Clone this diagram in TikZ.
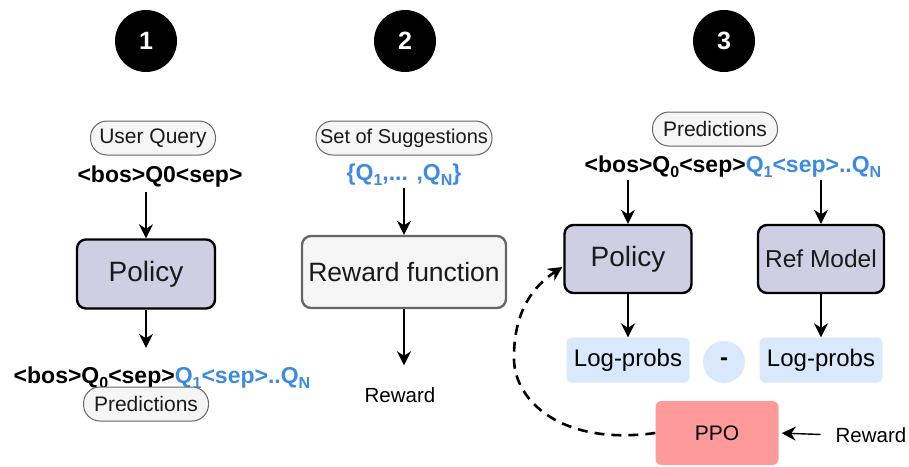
\documentclass[tikz,border=0pt]{standalone}
\usepackage{fontspec}
\setmainfont{Liberation Sans}
\usetikzlibrary{arrows.meta,calc}
\definecolor{qblue}{HTML}{3D8AE2}
\definecolor{lav}{HTML}{D0CEE2}
\definecolor{lblue}{HTML}{DAE8FC}
\definecolor{pillfill}{HTML}{F5F5F5}
\definecolor{pilldraw}{HTML}{666666}
\definecolor{ppored}{HTML}{FF9A9A}
\definecolor{txt}{HTML}{1A1A1A}
\newcommand\qsub[1]{\raisebox{-0.22em}{\fontsize{16}{16}\selectfont #1}}
\begin{document}
\begin{tikzpicture}[x=1pt,y=-1pt,
  numcirc/.style={circle,fill=black,minimum size=62pt,inner sep=0pt,text=white,font=\fontsize{25}{30}\selectfont\bfseries},
  pill/.style={draw=pilldraw,fill=pillfill,line width=1pt,rounded corners=16.5pt,minimum height=34pt,inner sep=0pt,text=txt,font=\fontsize{21}{24}\selectfont},
  model/.style={draw=black,line width=2.4pt,fill=lav,rounded corners=9pt,inner sep=0pt,text=txt},
  rbox/.style={draw=pilldraw,line width=2.4pt,fill=pillfill,rounded corners=9pt,inner sep=0pt,text=txt,font=\fontsize{26.5}{30}\selectfont},
  logp/.style={fill=lblue,rounded corners=5pt,minimum width=123pt,minimum height=45pt,inner sep=0pt,font=\fontsize{24}{28}\selectfont},
  tok/.style={inner sep=0pt,font=\fontsize{23}{26}\selectfont\bfseries},
  plain/.style={inner sep=0pt,font=\fontsize{20.5}{24}\selectfont},
  arr/.style={-{Stealth[length=14pt,width=14pt,inset=4.5pt]},line width=1.4pt}]
\useasboundingbox (0,0) rectangle (909,466);

% step numbers
\node[numcirc] (n1) at (146,41) {1};
\node[numcirc] (n2) at (405,41) {2};
\node[numcirc] (n3) at (724,41) {3};

% ---- column 1
\node[pill,minimum width=125pt] (uq) at (153,138) {User Query};
\node[tok] (q0) at (160,177) {<bos>Q0<sep>};
\node[model,minimum width=138pt,minimum height=69pt,font=\fontsize{28}{30}\selectfont] (pol1) at (146,274) {Policy};
\node[tok] (pred1) at (162,378) {<bos>Q\qsub{0}<sep>\textcolor{qblue}{Q\qsub{1}<sep>..Q\qsub{N}}};
\node[pill,minimum width=125pt] (pp1) at (146,404) {Predictions};
\draw[arr] (pol1.north |- q0.south) ++(0,4) coordinate (a1) -- (pol1.north);
\draw[arr,shorten >=19pt] (pol1.south) -- (pol1.south |- pred1.north);

% ---- column 2
\node[pill,minimum width=176pt,font=\fontsize{20}{24}\selectfont] (sos) at (404,138) {Set of Suggestions};
\node[tok,text=qblue] (qs) at (404,175) {\{Q\qsub{1},... ,Q\qsub{N}\}};
\node[rbox,minimum width=204pt,minimum height=72pt] (rf) at (404,272) {Reward function};
\node[plain] (rw2) at (400,395) {Reward};
\draw[arr] (rf.north |- qs.south) ++(0,2) coordinate (a2) -- (rf.north);
\draw[arr,shorten >=22pt] (rf.south) -- (rf.south |- rw2.north);

% ---- column 3
\node[pill,minimum width=125pt] (pp3) at (715,129) {Predictions};
\node[tok] (pred3) at (733,167) {<bos>Q\qsub{0}<sep>\textcolor{qblue}{Q\qsub{1}<sep>..Q\qsub{N}}};
\node[model,minimum width=127pt,minimum height=68pt,font=\fontsize{28}{30}\selectfont] (pol3) at (628,259) {Policy};
\node[model,minimum width=126pt,minimum height=68pt,font=\fontsize{24.5}{28}\selectfont] (ref) at (821,259) {Ref Model};
\node[logp] (lp1) at (628,360) {Log-probs};
\node[logp] (lp2) at (821,360) {Log-probs};
\node[circle,fill=lblue,minimum size=42pt,inner sep=0pt,font=\fontsize{24}{28}\selectfont\bfseries] (minus) at (724,362) {-};
\node[fill=ppored,rounded corners=6pt,minimum width=123pt,minimum height=64pt,inner sep=0pt,font=\fontsize{21}{24}\selectfont] (ppo) at (717,433) {PPO};
\node[plain] (rw3) at (871,435) {Reward};

\draw[arr] (pol3.north |- pred3.south) ++(0,2) coordinate (a3) -- (pol3.north);
\draw[arr] (ref.north |- pred3.south) ++(0,2) coordinate (a4) -- (ref.north);
\draw[arr] (pol3.south) -- (lp1.north);
\draw[arr] (ref.south) -- (lp2.north);
\draw[arr,shorten <=15pt,shorten >=3pt] (rw3.west) -- (ppo.east);
\coordinate (fb) at ($(pol3.west)+(-1,8)$);
\draw[-{Stealth[length=14pt,width=14pt,inset=4.5pt]},line width=2.6pt,dash pattern=on 10pt off 7pt]
  (ppo.west) .. controls (560,446) and (515,400) .. (514,360)
  .. controls (513,310) and (535,285) .. (fb);
\end{tikzpicture}
\end{document}
